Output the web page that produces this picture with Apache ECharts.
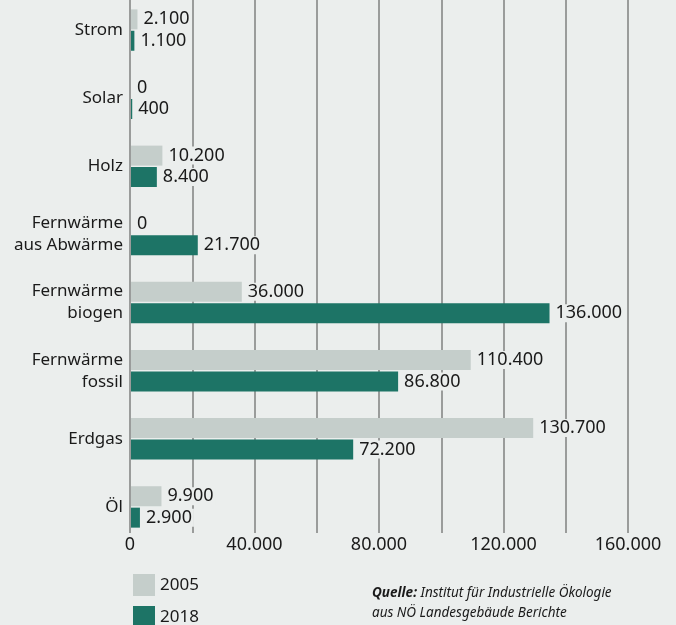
<!DOCTYPE html>
<html>
<head>
<meta charset="utf-8">
<script src="https://cdn.jsdelivr.net/npm/echarts@6/dist/echarts.min.js"></script>
<style>
html,body{margin:0;padding:0;background:#ebeeed;}
#c{width:676px;height:625px;}
</style>
</head>
<body>
<div id="c"></div>
<script>
const categories = ['Strom', 'Solar', 'Holz', 'Fernwärme\naus Abwärme', 'Fernwärme\nbiogen', 'Fernwärme\nfossil', 'Erdgas', 'Öl'];
const values2005 = [2100, 0, 10200, 0, 36000, 110400, 130700, 9900];
const values2018 = [1100, 400, 8400, 21700, 136000, 86800, 72200, 2900];
const seriesNames = ['2005', '2018'];
const axisTicks = [0, 40000, 80000, 120000, 160000];

const BG = '#ebeeed';
const C05 = '#c5cecb';
const C18 = '#1d7466';
const FONT = '"Noto Sans", "Open Sans", sans-serif';

function fmt(v) {
  return String(v).replace(/\B(?=(\d{3})+(?!\d))/g, '.');
}

const chart = echarts.init(document.getElementById('c'), null, {renderer: 'canvas'});

const labelStyle = {
  show: true,
  position: 'right',
  distance: 4,
  color: '#1a1a1a',
  fontFamily: FONT,
  fontSize: 18,
  backgroundColor: BG,
  padding: [0, 2, 0, 2],
  formatter: p => fmt(p.value)
};

const legendText = {color: '#1a1a1a', fontSize: 17, fontFamily: FONT};

chart.setOption({
  backgroundColor: BG,
  animation: false,
  textStyle: {fontFamily: FONT},
  grid: [
    {left: 131, right: 48, top: -4, bottom: 84, outerBoundsMode: 'none', containLabel: false},
    {left: 130, right: 48, top: 0, bottom: 92, outerBoundsMode: 'none', containLabel: false}
  ],
  xAxis: [
    {type: 'value', gridIndex: 0, min: 0, max: 161500, show: false},
    {
      type: 'value', gridIndex: 1, min: 0, max: 160000, interval: 20000,
      axisLine: {show: false}, axisTick: {show: false},
      splitLine: {show: true, lineStyle: {color: '#9a9c9b', width: 2}},
      axisLabel: {
        margin: 3, color: '#1a1a1a', fontSize: 18, fontFamily: FONT,
        formatter: v => axisTicks.indexOf(v) >= 0 ? fmt(v) : ''
      }
    }
  ],
  yAxis: [
    {
      type: 'category', gridIndex: 0, data: categories, inverse: true,
      axisLine: {show: false}, axisTick: {show: false},
      axisLabel: {margin: 8, color: '#1a1a1a', fontSize: 17, fontFamily: FONT, lineHeight: 22}
    },
    {type: 'value', gridIndex: 1, show: false, min: 0, max: 1}
  ],
  legend: [
    {
      orient: 'vertical', left: 133, top: 574, padding: 0, itemWidth: 22, itemHeight: 22,
      icon: 'rect', data: [seriesNames[0]], textStyle: legendText, selectedMode: false
    },
    {
      orient: 'vertical', left: 133, top: 606, padding: 0, itemWidth: 22, itemHeight: 22,
      icon: 'rect', data: [seriesNames[1]], textStyle: legendText, selectedMode: false
    }
  ],
  series: [
    {
      name: seriesNames[0], type: 'bar', xAxisIndex: 0, yAxisIndex: 0,
      data: values2005, barWidth: 20, barGap: '7%',
      itemStyle: {color: C05}, label: labelStyle
    },
    {
      name: seriesNames[1], type: 'bar', xAxisIndex: 0, yAxisIndex: 0,
      data: values2018, barWidth: 20, barGap: '7%',
      itemStyle: {color: C18}, label: labelStyle
    }
  ],
  graphic: [{
    type: 'text', left: 372, top: 583,
    style: {
      text: '{b|Quelle:} Institut für Industrielle Ökologie\naus NÖ Landesgebäude Berichte',
      fontFamily: FONT, fontSize: 13.5, fontStyle: 'italic', fill: '#1a1a1a', lineHeight: 20,
      rich: {b: {fontWeight: 'bold', fontStyle: 'italic', fontFamily: FONT, fontSize: 13.5, lineHeight: 20}}
    }
  }]
});
</script>
</body>
</html>
